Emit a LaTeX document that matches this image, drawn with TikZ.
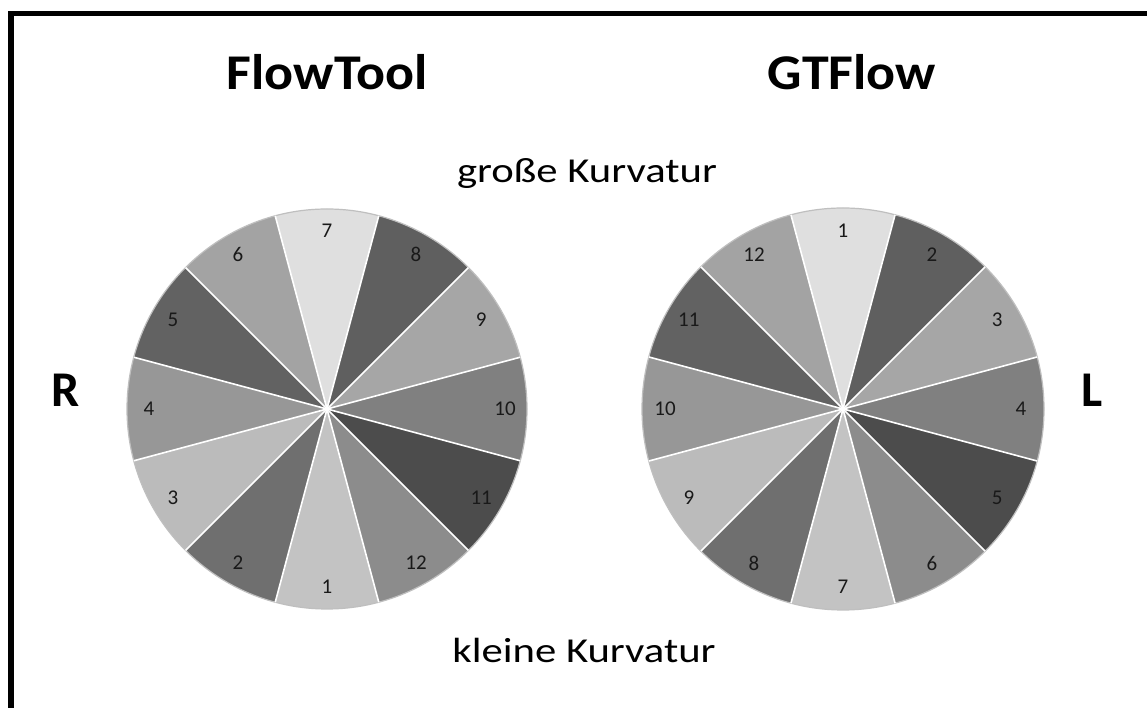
\documentclass[tikz,border=0pt]{standalone}
\usepackage{fontspec}
\setmainfont{Carlito}
\usetikzlibrary{calc}
\definecolor{c0}{HTML}{DFDFDF}
\definecolor{c1}{HTML}{5F5F5F}
\definecolor{c2}{HTML}{A6A6A6}
\definecolor{c3}{HTML}{808080}
\definecolor{c4}{HTML}{4C4C4C}
\definecolor{c5}{HTML}{8C8C8C}
\definecolor{c6}{HTML}{C3C3C3}
\definecolor{c7}{HTML}{6F6F6F}
\definecolor{c8}{HTML}{BBBBBB}
\definecolor{c9}{HTML}{979797}
\definecolor{c10}{HTML}{626262}
\definecolor{c11}{HTML}{A3A3A3}
\tikzset{
  title/.style={font=\fontsize{50}{60}\selectfont\bfseries, anchor=base, inner sep=0pt},
  side/.style={font=\fontsize{35}{42}\selectfont, anchor=base, inner sep=0pt},
  num/.style={font=\fontsize{21}{25}\selectfont, text=black!90, inner sep=0pt},
  sep/.style={white, line width=1.6pt},
  rim/.style={draw=black!25, line width=1.2pt}
}
\begin{document}
\begin{tikzpicture}[x=1pt,y=1pt]
\useasboundingbox (0,0) rectangle (1147,708);
\fill[white] (0,0) rectangle (1147,708);
\draw[line width=5.5pt] (11,0) -- (11,694.5) -- (1147,694.5);
\coordinate (LC) at (327,299);
\coordinate (RC) at (843,299);
\foreach \i in {0,...,11}{
  \pgfmathsetmacro{\a}{105-30*\i}
  \pgfmathsetmacro{\b}{75-30*\i}
  \fill[c\i] (LC) -- ($(LC)+(\a:200)$) arc[start angle=\a, end angle=\b, radius=200] -- cycle;
  \fill[c\i] (RC) -- ($(RC)+(\a:201)$) arc[start angle=\a, end angle=\b, radius=201] -- cycle;
}
\draw[rim] (LC) circle (200);
\draw[rim] (RC) circle (201);
\foreach \i in {0,...,11}{
  \pgfmathsetmacro{\a}{105-30*\i}
  \draw[sep] (LC) -- ($(LC)+(\a:200)$);
  \draw[sep] (RC) -- ($(RC)+(\a:201)$);
}
\foreach \i in {0,...,11}{
  \pgfmathsetmacro{\m}{90-30*\i}
  \pgfmathtruncatemacro{\nl}{mod(\i+6,12)+1}
  \pgfmathtruncatemacro{\nr}{\i+1}
  \node[num] (l\nl) at ($(LC)+(\m:178)$) {\nl};
  \node[num] (r\nr) at ($(RC)+(\m:178)$) {\nr};
}
\node[title] (ft) at (327,618) {\scalebox{1.08}[1]{FlowTool}};
\node[title] (gt) at (852,618) {\scalebox{1.08}[1]{GTFlow}};
\node[title] (R) at (66,301) {R};
\node[title] (L) at (1092,301) {L};
\node[side] (gk) at (587,525) {\scalebox{1.22}[1]{große Kurvatur}};
\node[side] (kk) at (584,45) {\scalebox{1.22}[1]{kleine Kurvatur}};
\end{tikzpicture}
\end{document}
